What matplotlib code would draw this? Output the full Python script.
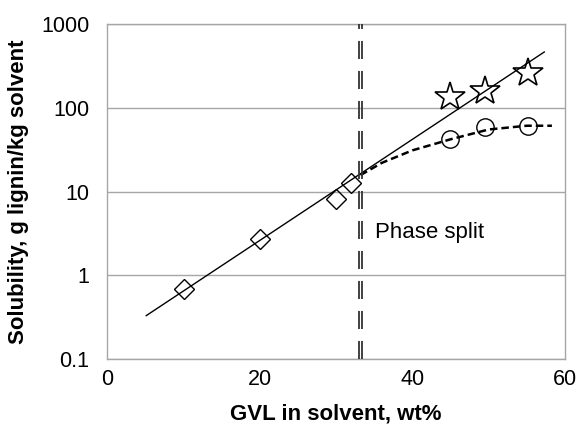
import numpy as np
import matplotlib.pyplot as plt

plt.rcParams['font.family'] = ['Liberation Sans', 'DejaVu Sans']

# single-phase data (diamonds)
gvl_single = [10, 20, 30, 32]
sol_single = [0.69, 2.7, 8.1, 12.5]

# phase-split data: stars (upper phase) and circles (lower phase)
gvl_split = [45, 49.5, 55.2]
sol_stars = [134, 158, 260]
sol_circles = [42, 59, 60]

# exponential trend line (endpoints)
trend_x = [5.1, 57.3]
trend_y = [0.33, 463]

# dashed curve through the circles
curve_x = [33.2, 36, 40, 45, 50, 55, 58.3]
curve_y = [15.7, 22, 31, 42, 55, 61, 61]

phase_split_x = 33.2

fig, ax = plt.subplots(figsize=(5.77, 4.28), dpi=100)
fig.subplots_adjust(left=0.186, right=0.979, top=0.944, bottom=0.161)

ax.set_yscale('log')
ax.set_xlim(0, 60)
ax.set_ylim(0.1, 1000)

ax.yaxis.grid(True, color='#a6a6a6', linewidth=1.0)
ax.set_axisbelow(True)
for s in ax.spines.values():
    s.set_color('#a6a6a6')
    s.set_linewidth(1.0)
ax.tick_params(length=0, labelsize=15.5)
ax.tick_params(axis='y', pad=13)
ax.tick_params(axis='x', pad=7)
ax.set_xticks([0, 20, 40, 60])
ax.set_yticks([0.1, 1, 10, 100, 1000])
ax.set_yticklabels(['0.1', '1', '10', '100', '1000'])
ax.minorticks_off()

# trend line
ax.plot(trend_x, trend_y, color='black', linewidth=1.0, zorder=3)
# dashed polynomial curve
ax.plot(curve_x, curve_y, color='black', linewidth=1.8, dashes=(3, 1.6), zorder=3)

# phase split double dashed line
lw = 1.3
for dx in [-0.18, 0.18]:
    ax.axvline(phase_split_x + dx, color='#333333', linewidth=lw,
               dashes=(13 / lw, 8.6 / lw), zorder=4)

ax.plot(gvl_single, sol_single, linestyle='none', marker='D', markersize=10.5,
        markerfacecolor='none', markeredgecolor='black', markeredgewidth=1.0, zorder=5)
ax.plot(gvl_split, sol_stars, linestyle='none', marker='*', markersize=22,
        markerfacecolor='none', markeredgecolor='black', markeredgewidth=1.2, zorder=5)
ax.plot(gvl_split, sol_circles, linestyle='none', marker='o', markersize=12.5,
        markerfacecolor='none', markeredgecolor='black', markeredgewidth=1.0, zorder=5)

ax.text(35.1, 3.2, 'Phase split', fontsize=16, va='center', ha='left')

ax.set_xlabel('GVL in solvent, wt%', fontsize=16, fontweight='bold', labelpad=10)
ax.set_ylabel('Solubility, g lignin/kg solvent', fontsize=16, fontweight='bold', labelpad=9)

plt.savefig('out.png', dpi=100)
